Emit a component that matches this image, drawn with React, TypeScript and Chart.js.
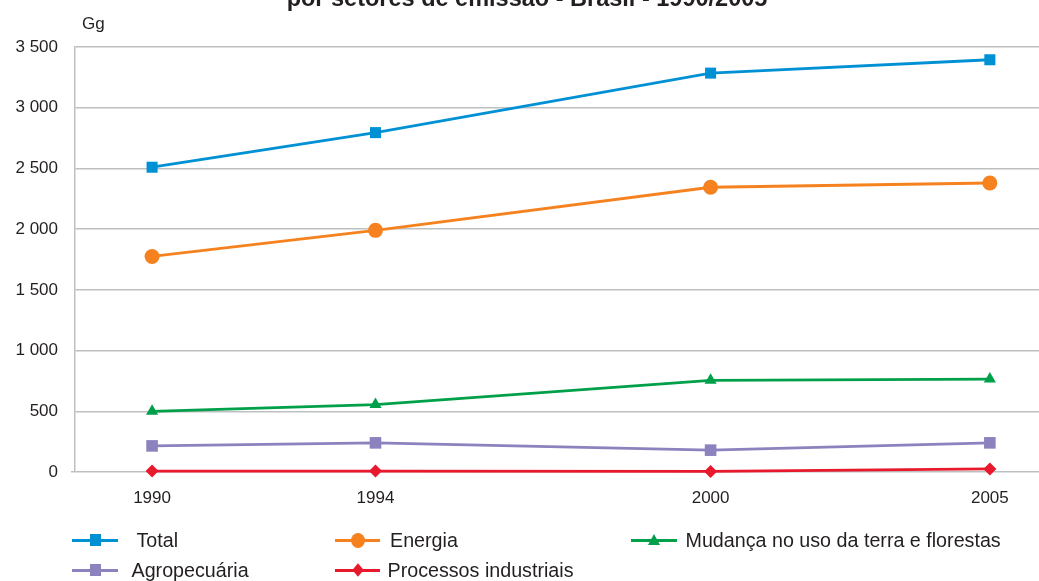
import React, { useEffect, useRef } from "react";
import { Chart, registerables } from "chart.js";

Chart.register(...registerables);

const titleText = "por setores de emissão - Brasil - 1990/2005";
const unitLabel = "Gg";
const years = [1990, 1994, 2000, 2005];
const yTickValues = [0, 500, 1000, 1500, 2000, 2500, 3000, 3500];

const total = [2510, 2795, 3285, 3395];
const energia = [1775, 1990, 2345, 2380];
const mudanca = [500, 555, 755, 765];
const agropecuaria = [215, 240, 180, 240];
const processos = [8, 8, 5, 25];

const seriesNames = [
  "Total",
  "Energia",
  "Mudança no uso da terra e florestas",
  "Agropecuária",
  "Processos industriais",
];
const seriesValues = [total, energia, mudanca, agropecuaria, processos];
const seriesColors = ["#0091d5", "#f5821f", "#00a04a", "#8c82be", "#e8192c"];
const seriesPointStyles = ["rect", "circle", "triangle", "rect", "rectRot"];
const seriesPointRadius = [7.8, 7.5, 7, 8.2, 6.5];

const FONT = "'Liberation Sans', Arial, Helvetica, sans-serif";
const TEXT = "#231f20";
const GRID = "#bdbfc1";

function fmt(v: number): string {
  if (v >= 1000) {
    return `${Math.floor(v / 1000)} ${String(v % 1000).padStart(3, "0")}`;
  }
  return String(v);
}

// legend layout: line start/end, text start, text baseline
const legendPos = [
  { lineLeft: 72, lineRight: 118, textLeft: 136.5, baseline: 547 },
  { lineLeft: 335, lineRight: 380, textLeft: 390, baseline: 547 },
  { lineLeft: 631, lineRight: 677, textLeft: 685.5, baseline: 547 },
  { lineLeft: 72, lineRight: 118, textLeft: 131.5, baseline: 577 },
  { lineLeft: 335, lineRight: 380, textLeft: 387.5, baseline: 577 },
];

function Marker({ style, color, cx, cy }: { style: string; color: string; cx: number; cy: number }) {
  const base: React.CSSProperties = { position: "absolute", left: cx, top: cy };
  if (style === "rect") {
    return <div style={{ ...base, width: 11, height: 12, marginLeft: -5.5, marginTop: -6, background: color }} />;
  }
  if (style === "circle") {
    return <div style={{ ...base, width: 14, height: 15, marginLeft: -7, marginTop: -7.5, borderRadius: "50%", background: color }} />;
  }
  if (style === "triangle") {
    return (
      <div
        style={{
          ...base,
          width: 0,
          height: 0,
          marginLeft: -6,
          marginTop: -6,
          borderLeft: "6px solid transparent",
          borderRight: "6px solid transparent",
          borderBottom: `11px solid ${color}`,
        }}
      />
    );
  }
  return (
    <div
      style={{
        ...base,
        width: 8,
        height: 8,
        marginLeft: -4,
        marginTop: -4,
        background: color,
        transform: "scaleY(1.2) rotate(45deg)",
      }}
    />
  );
}

export default function App() {
  const canvasRef = useRef<HTMLCanvasElement | null>(null);

  useEffect(() => {
    if (!canvasRef.current) return;
    const chart = new Chart(canvasRef.current, {
      type: "line",
      data: {
        datasets: seriesNames.map((name, i) => ({
          label: name,
          data: seriesValues[i].map((v, j) => ({ x: years[j], y: v })),
          borderColor: seriesColors[i],
          backgroundColor: seriesColors[i],
          pointBackgroundColor: seriesColors[i],
          pointBorderColor: seriesColors[i],
          pointBorderWidth: 0,
          pointStyle: seriesPointStyles[i] as any,
          pointRadius: seriesPointRadius[i],
          borderWidth: 2.8,
          tension: 0,
          fill: false,
          clip: false as any,
        })),
      },
      options: {
        animation: false,
        responsive: false,
        maintainAspectRatio: false,
        layout: { autoPadding: false, padding: { top: 47, left: 0, right: 0, bottom: 0 } },
        plugins: {
          legend: { display: false },
          title: { display: false },
          tooltip: { enabled: false },
        },
        scales: {
          x: {
            type: "linear",
            min: 1988.62,
            max: 2005.88,
            afterBuildTicks: (scale: any) => {
              scale.ticks = years.map((v) => ({ value: v }));
            },
            afterFit: (scale: any) => {
              scale.height = 109;
              scale.paddingLeft = 0;
              scale.paddingRight = 0;
            },
            grid: { display: false, drawTicks: false },
            border: { display: false },
            ticks: {
              padding: 16,
              color: TEXT,
              font: { family: FONT, size: 17 },
              callback: (v: any) => String(v),
              maxRotation: 0,
              autoSkip: false,
            },
          },
          y: {
            min: 0,
            max: 3500,
            afterBuildTicks: (scale: any) => {
              scale.ticks = yTickValues.map((v) => ({ value: v }));
            },
            afterFit: (scale: any) => {
              scale.width = 75;
            },
            grid: {
              color: GRID,
              lineWidth: 1.5,
              drawTicks: true,
              tickLength: 4,
              tickColor: (ctx: any) => (ctx.tick && ctx.tick.value === 0 ? GRID : "rgba(0,0,0,0)"),
            },
            border: { display: true, color: GRID, width: 1.5 },
            ticks: {
              padding: 13,
              color: TEXT,
              font: { family: FONT, size: 17 },
              callback: (v: any) => fmt(Number(v)),
            },
          },
        },
      },
    });
    return () => chart.destroy();
  }, []);

  const legendFont = 19.7;
  const lh = 20;
  const baselineInBox = (lh - 1.117 * legendFont) / 2 + 0.905 * legendFont;

  return (
    <div
      style={{
        position: "absolute",
        left: 0,
        top: 0,
        width: 1039,
        height: 581,
        overflow: "hidden",
        background: "#ffffff",
        fontFamily: FONT,
        color: TEXT,
      }}
    >
      <canvas ref={canvasRef} width={1039} height={581} style={{ position: "absolute", left: 0, top: 0 }} />
      <div
        style={{
          position: "absolute",
          left: 0,
          width: 1054,
          top: -13,
          textAlign: "center",
          fontWeight: "bold",
          fontSize: 23.5,
          lineHeight: "23.5px",
          whiteSpace: "nowrap",
        }}
      >
        {titleText}
      </div>
      <div style={{ position: "absolute", left: 82, top: 15, fontSize: 17, lineHeight: "17px" }}>{unitLabel}</div>
      {seriesNames.map((name, i) => {
        const p = legendPos[i];
        const cy = p.baseline - 7;
        return (
          <React.Fragment key={name}>
            <div
              style={{
                position: "absolute",
                left: p.lineLeft,
                width: p.lineRight - p.lineLeft,
                top: cy - 1.5,
                height: 3,
                background: seriesColors[i],
              }}
            />
            <Marker style={seriesPointStyles[i]} color={seriesColors[i]} cx={(p.lineLeft + p.lineRight) / 2} cy={cy} />
            <div
              style={{
                position: "absolute",
                left: p.textLeft,
                top: p.baseline - baselineInBox,
                fontSize: legendFont,
                lineHeight: `${lh}px`,
                whiteSpace: "nowrap",
              }}
            >
              {name}
            </div>
          </React.Fragment>
        );
      })}
    </div>
  );
}
